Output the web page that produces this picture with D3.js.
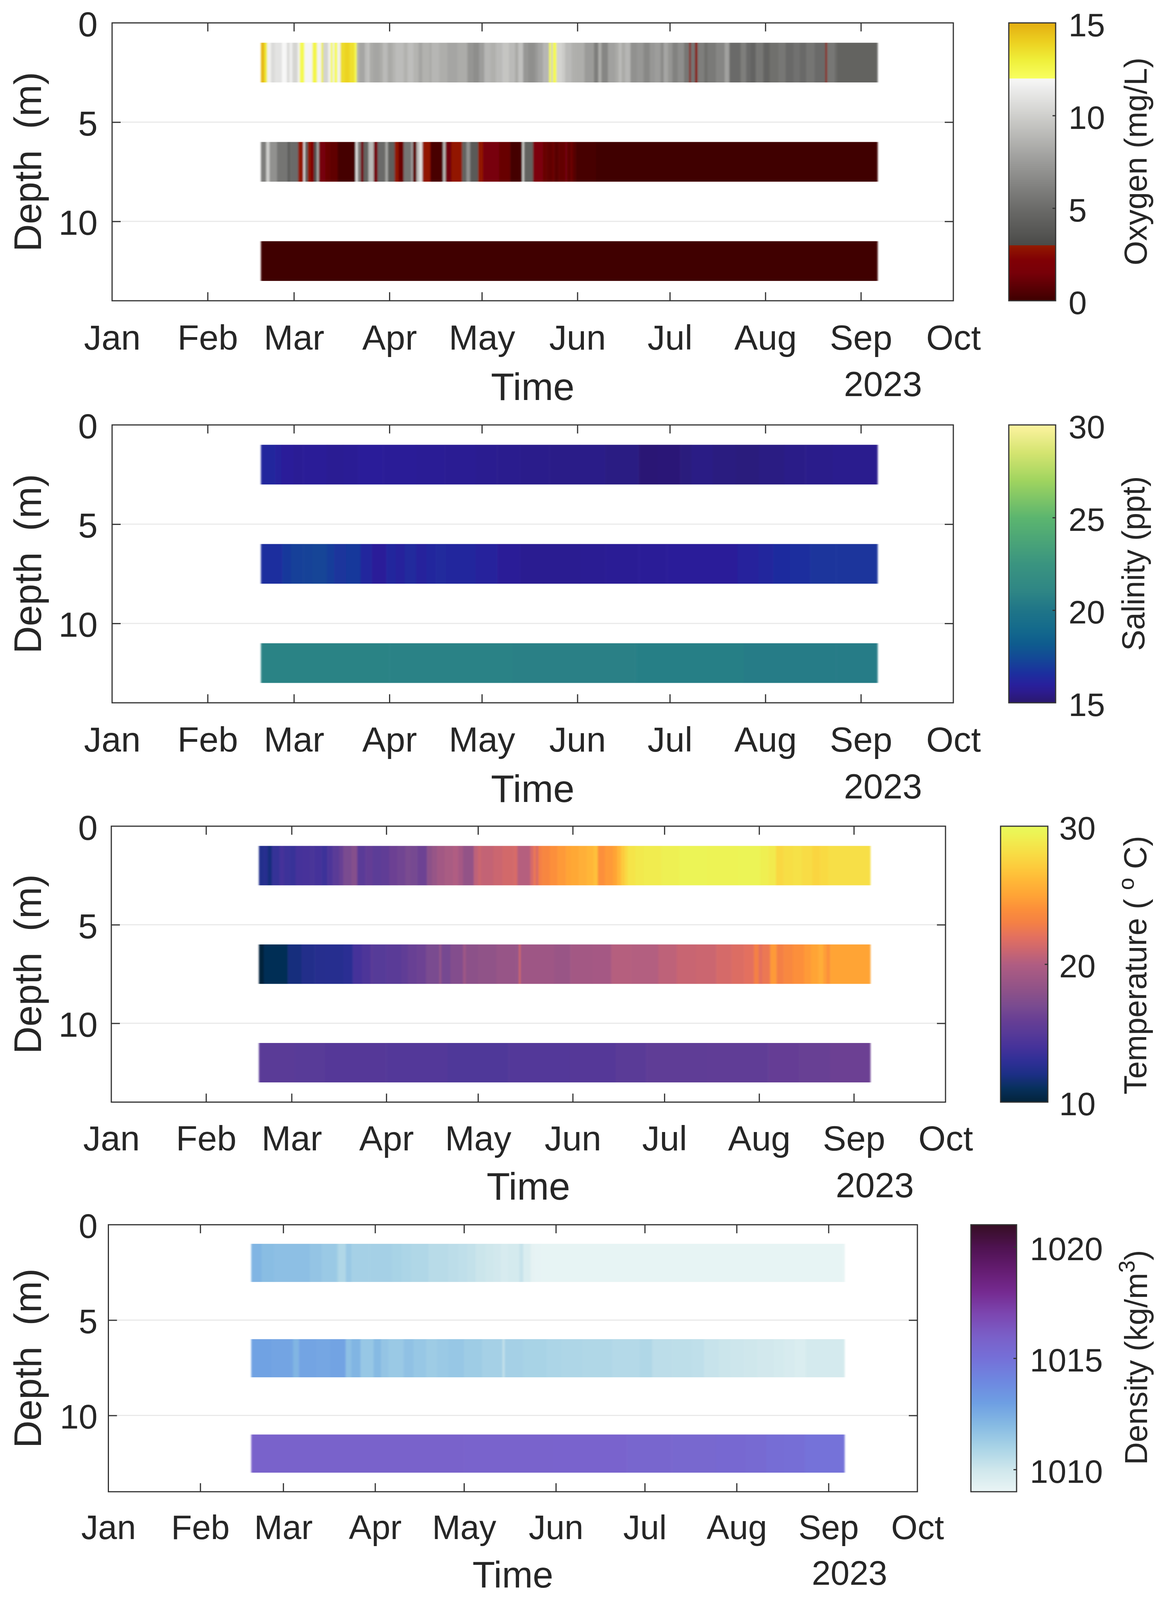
<!DOCTYPE html>
<html><head><meta charset="utf-8">
<script src="https://cdn.jsdelivr.net/npm/d3@7/dist/d3.min.js"></script>
<style>html,body{margin:0;padding:0;background:#fff;overflow:hidden}svg{display:block;width:100vw;height:100vh}text{font-family:"Liberation Sans",Arial,sans-serif;fill:#262626}</style>
</head><body><svg id="c" viewBox="0 0 2983 4123" preserveAspectRatio="none"></svg>
<script>
// [day of 2023 counted from Jan 1, value] : each value holds until the next entry
const endDay = 248.4;
const monthLabels = ["Jan","Feb","Mar","Apr","May","Jun","Jul","Aug","Sep","Oct"];
const depthTicks = [0,5,10];
const depthBands = [[1,3],[6,8],[11,13]];

const oxygen1m = [[48.3,14.7],[49.4,13.2],[50.3,11.7],[51.55,10.6],[52.8,11],[55.1,12],[56.7,10.6],[57.6,11.6],[58.5,10.3],[60.2,11.7],[60.9,12.4],[62.4,11.9],[65,12.6],[66.5,11.8],[67.9,13],[68.5,10.2],[70.1,11.6],[70.9,12.4],[71.6,11.5],[72.1,12.3],[73.1,11.7],[74.1,13.6],[75.5,13.9],[77.1,13.5],[78.7,12.3],[79.4,8.6],[80.2,8],[82,9],[82.9,9.3],[83.6,8.2],[84.7,8],[86.8,8.3],[87.8,9],[89.4,8.2],[91,8.7],[92,9.1],[94.6,8.6],[95.9,9.2],[97.8,8.7],[99.4,8],[100.7,8.6],[103,8.2],[103.7,8.8],[106.2,8.4],[108.8,8],[112,8.3],[115.3,7.2],[117.2,6.8],[119.1,7.6],[120.8,8.8],[122.7,8.5],[124.6,9],[126.6,9.5],[128.8,9],[130.8,8.2],[131.8,9.3],[133.4,7.3],[135,6.9],[137.3,7.4],[138.2,8],[139.8,8.8],[141.8,12.4],[142.5,9.8],[143,12.4],[144.2,10.2],[146,9.8],[147,9],[149.1,8.5],[150.5,8.4],[153.3,7.5],[156.4,6],[157.8,8.3],[158.8,6.4],[160.9,7.8],[163.4,8.2],[164.4,9],[165.4,8.2],[166.5,8.8],[168.2,7],[170.3,7.3],[172.4,6.5],[174.5,7.3],[176.2,7.6],[178,6.6],[179,8],[180.4,7.2],[181.8,6.2],[183.5,6.8],[185.6,5.6],[187.3,2.7],[187.8,5.5],[189.2,2.5],[190,6],[192.2,5.2],[193.3,5.8],[196,6.4],[198.8,7.8],[200.3,5],[204,6],[205.8,5],[207.2,4.6],[208.9,5.6],[211.3,4.6],[213.4,5.2],[216.2,5.6],[218.6,4.9],[221.1,5.3],[223.2,4.9],[225.2,5.5],[228,5],[231.5,2.8],[232,5.6],[234.6,5],[235.3,4.5]];
const oxygen6m = [[48.3,6],[50,10],[51.1,7],[53.5,5.5],[57,4],[57.7,5],[60.4,2.95],[62.1,11],[62.6,4.2],[63.5,2.9],[64.5,2.2],[65.5,3.2],[66.4,8],[67.1,1.5],[69.2,1.2],[70.6,0.9],[73.2,0.2],[79,11],[79.7,6],[80.7,1.3],[81.6,4.5],[83.2,9],[84.9,1.4],[86.2,5],[88.7,8],[89.5,4.2],[91.7,2.9],[93,1.2],[94.6,5.5],[97.1,8],[97.6,0.8],[98.8,9],[99.7,11],[100.7,2.9],[103.3,0.3],[107.4,9],[108.2,1.4],[110.1,2.95],[113.6,4.5],[115,7],[116.2,4],[118.8,2.9],[120.4,1.6],[125.6,1.1],[129.2,0.2],[133.1,10],[133.7,4.5],[136.6,1.8],[139.8,1.1],[141.1,0.9],[142.8,1.2],[143.5,0.7],[144.9,1],[147,1.4],[147.7,0.8],[148.8,1.3],[149.4,0.7],[150.5,0.25],[156.4,0.3],[157,0.1]];
const oxygen11m = [[48.3,0.1]];

const salinity1m = [[48.3,16.3],[52.9,16],[55,15.9],[58.9,15.8],[62,15.85],[69.7,15.75],[75,15.8],[79.9,15.9],[88,15.85],[98.7,15.8],[108,15.75],[118,15.65],[125,15.6],[132.5,15.55],[142,15.5],[151.8,15.5],[160,15.4],[171,15.15],[177,15.2],[184.3,15.3],[187.9,15.45],[195,15.35],[202.4,15.3],[210,15.4],[218.1,15.5],[225,15.55],[233.8,15.6]];
const salinity6m = [[48.3,16.6],[55.3,16.9],[58,17.1],[62,17.2],[65,17.3],[69.7,17],[72,16.8],[76,16.9],[80.6,16.3],[84.2,15.9],[89,16.3],[92,16.1],[95,16.4],[98.7,16],[102,16.2],[105,16.4],[108.3,16.3],[112,16.2],[118,16],[125,15.85],[132.5,15.7],[140,15.7],[151.8,15.75],[160,15.8],[171,15.85],[180,15.9],[195,15.9],[203,16],[209.7,16.2],[214.5,16.5],[220,16.6],[226.5,16.8],[235,16.8]];
const salinity11m = [[48.3,20.9],[90,20.8],[130,20.7],[170,20.6],[205,20.45],[235,20.4]];

const temperature1m = [[48.3,12.4],[49.9,12.6],[51.2,11.8],[52.5,13.3],[55.1,14],[56.5,13.7],[58.3,13.4],[60.3,14],[62.5,14.1],[64.9,14.3],[66.5,14],[68.8,13.7],[70.7,14.5],[72.5,15.2],[74.6,16],[75.9,17],[78.6,17.6],[80.5,15.2],[83.1,15.7],[85.5,15.3],[88.3,15.5],[91,16.2],[93.5,16.5],[96.2,17],[98,16.8],[100.1,16.3],[103.3,18],[105,18.6],[106.6,19.2],[109,19.6],[111.8,20],[113.5,19.4],[115.1,18.4],[118.6,20.5],[120,21],[121,20.7],[125,21],[128,21.3],[131.8,21.5],[132.9,20.2],[137.1,21.5],[138.2,22.5],[138.9,21.6],[139.8,23],[141,23.4],[143.5,24],[146,24.5],[148.8,25],[150.5,25.2],[153,25.6],[155.5,26],[157.8,26.5],[159.2,24],[161.5,24.5],[164.2,25],[165.5,26],[166.8,27],[168,27.8],[169,28.5],[171.5,28.8],[174.2,29],[180,29.3],[185.9,29.6],[195,29.5],[205,29.6],[212.4,29.2],[215,28.9],[217.5,27.8],[220,28.1],[223,28.3],[226,28],[229.4,27.6],[232,27.9],[234.7,28.2]];
const temperature6m = [[48.3,10],[49.9,10.8],[57.7,11.8],[62.2,12.3],[66.5,12.5],[70,12.6],[75.9,12.8],[78.9,13.5],[79.2,14],[82,14.5],[84.8,15.2],[85.7,15],[90,15.2],[94.9,15.6],[97,16],[100,16.3],[103,17],[107.4,18.5],[108,16.8],[111,17.5],[115.1,19],[116,18],[120,18.2],[126,18.6],[132.7,18.5],[133.4,21.5],[133.9,19],[142,19],[145,18.7],[150.2,19.3],[157.3,19.4],[163.6,20.2],[170,20.1],[179,20.5],[185,20.9],[191.2,21],[198,21.4],[203,21.7],[207.1,22],[210.3,23],[211.9,22],[213,22.5],[215.6,24.5],[217.7,23],[220,23.5],[223,24],[226.7,24.5],[229,25],[231.5,25.5],[233,24.7],[234.1,24],[235.2,25]];
const temperature11m = [[48.3,15.2],[60,15.05],[70,14.9],[90,14.75],[110,14.6],[130,14.75],[150,14.9],[165,15.2],[175,15.4],[195,15.6],[215,15.8],[225,16],[235,16.2]];

const density1m = [[48.2,1012.2],[51.7,1011.9],[56,1011.8],[68,1011.6],[72,1011.4],[76.9,1011.2],[77.5,1010.8],[80.1,1011.4],[82,1011.1],[88,1011.1],[95.8,1011],[99,1010.9],[102.2,1010.8],[108,1010.6],[114.7,1010.5],[118,1010.4],[121,1010.3],[124,1010.1],[127.4,1010],[130,1009.9],[132.4,1009.7],[135,1009.8],[138.7,1010.2],[140,1009.6],[142.5,1009.2],[144,1009.15],[146,1009.1]];
const density6m = [[48.2,1012.9],[55,1012.8],[61.8,1012.7],[62.4,1012.2],[64.3,1012.8],[70,1012.75],[75,1012.85],[79.4,1012.8],[80.1,1011.8],[82,1012.2],[85.1,1011.5],[89.5,1012],[92,1011.6],[94.6,1011.4],[99.6,1011.7],[103,1011.5],[107.2,1011.3],[111,1011.4],[114.7,1011.5],[120,1011.3],[126,1011.1],[133,1010.3],[133.7,1011.1],[140,1011],[147.9,1010.9],[153,1010.85],[159.9,1010.8],[170,1010.7],[179.3,1010.8],[183.5,1010.5],[190,1010.45],[196.9,1010.4],[201,1010.2],[206.1,1010.1],[210,1010.05],[214.5,1010],[219,1009.9],[224.6,1009.8],[228,1009.7],[231.6,1009.6],[235.3,1009.8]];
const density11m = [[48.2,1015.8],[120,1015.75],[150,1015.7],[175,1015.6],[190,1015.55],[205,1015.45],[215,1015.35],[222,1015.2],[228,1015.1],[235,1014.9]];

const oxygenStops = [[0,"#3d0000"],[1.5,"#770008"],[2.2,"#800005"],[3,"#931a00"],[3.001,"#4a4a48"],[5,"#6b6b69"],[7.5,"#9b9b99"],[10,"#cfcfcc"],[12,"#f7f7f7"],[12.001,"#f8ff60"],[13,"#efef3a"],[14,"#ecd020"],[15,"#e4ae12"]];
const salinityStops = [[15,"#2a186c"],[15.6,"#2c1b8e"],[16,"#28209c"],[16.6,"#1c2f9e"],[17.4,"#134896"],[18.2,"#0e5c8e"],[19,"#146a8c"],[20,"#1f7588"],[21,"#2e8585"],[22.5,"#3a9480"],[25,"#5bb56f"],[27,"#a0d45f"],[28.5,"#d4e470"],[30,"#fdf3a0"]];
const temperatureStops = [[10,"#03233a"],[11,"#07305c"],[12,"#1c2f85"],[13,"#2f2f96"],[14,"#45329a"],[15,"#573a98"],[16,"#683f94"],[17,"#7a4b90"],[18,"#8c5189"],[19,"#9e5785"],[20,"#b05d82"],[21,"#cb6670"],[22,"#e3705f"],[23,"#f48045"],[24,"#fc8f3a"],[25,"#ffa436"],[26,"#ffb637"],[27,"#fdca3c"],[28,"#f8dc44"],[29,"#f1ec4f"],[30,"#e8fa5b"]];
const densityStops = [[1009,"#eaf5f5"],[1010,"#cfe7ec"],[1011,"#a8d3e6"],[1012,"#86bae3"],[1013,"#6e9fe3"],[1014,"#6e87e0"],[1015,"#7570d8"],[1016,"#7a5fc8"],[1017,"#7c46b0"],[1018,"#752a90"],[1019,"#641c70"],[1020,"#4e1250"],[1021,"#360e24"]];

const panels = [
 {rows:[oxygen1m,oxygen6m,oxygen11m],stops:oxygenStops,domain:[0,15],ticks:[0,5,10,15],
  box:{l:287,r:2441,t:59,b:775},cb:{l:2583,r:2703},fs:90,tfs:84,cbx:33,label:["Oxygen (mg/L)"],lblX:2936,lblC:416,yearR:2361,mDy:126,tDy:256,yDy:246},
 {rows:[salinity1m,salinity6m,salinity11m],stops:salinityStops,domain:[15,30],ticks:[15,20,25,30],
  box:{l:287,r:2441,t:1095,b:1811},cb:{l:2583,r:2703},fs:90,tfs:84,cbx:33,label:["Salinity (ppt)"],lblX:2930,lblC:1452,yearR:2361,mDy:126,tDy:256,yDy:246},
 {rows:[temperature1m,temperature6m,temperature11m],stops:temperatureStops,domain:[10,30],ticks:[10,20,30],
  box:{l:285,r:2421,t:2129,b:2840},cb:{l:2562,r:2683},fs:90,tfs:84,cbx:29,label:["Temperature ( ","o"," C)"],lblX:2935,lblC:2487,yearR:2340,mDy:124,tDy:251,yDy:245},
 {rows:[density1m,density6m,density11m],stops:densityStops,domain:[1009,1021],ticks:[1010,1015,1020],
  box:{l:277.5,r:2349,t:3156,b:3844},cb:{l:2486,r:2603},fs:87,tfs:84,cbx:34,label:["Density (kg/m","3",")"],lblX:2937,lblC:3498,yearR:2272,mDy:122,tDy:247,yDy:240}
];

const svg = d3.select("#c");
svg.append("defs").append("filter").attr("id","soft").attr("x","-1%").attr("width","102%")
  .append("feGaussianBlur").attr("stdDeviation","2 0");
const ink = "#333333";
const dayToDate = d => new Date(Date.UTC(2023,0,1) + d*864e5);

panels.forEach(p => {
  const {l,r,t,b} = p.box;
  const x = d3.scaleUtc().domain([new Date(Date.UTC(2023,0,1)),new Date(Date.UTC(2023,9,1))]).range([l,r]);
  const y = d3.scaleLinear().domain([0,14]).range([t,b]);
  const color = d3.scaleLinear().domain(p.stops.map(s=>s[0])).range(p.stops.map(s=>s[1])).clamp(true);
  const g = svg.append("g");

  // grid
  g.append("g").selectAll("line").data(depthTicks.slice(1)).join("line")
    .attr("x1",l).attr("x2",r).attr("y1",y).attr("y2",y).attr("stroke","#e9e9e9").attr("stroke-width",3);

  // stripes
  p.rows.forEach((row,i) => {
    const [d0,d1] = depthBands[i];
    g.append("g").attr("filter","url(#soft)").selectAll("rect").data(row).join("rect")
      .attr("x",d=>x(dayToDate(d[0])))
      .attr("width",(d,j)=>x(dayToDate(j+1<row.length?row[j+1][0]:endDay))-x(dayToDate(d[0]))+0.5)
      .attr("y",y(d0)).attr("height",y(d1)-y(d0))
      .attr("fill",d=>color(d[1]));
  });

  // axes
  const monthTicks = d3.utcMonth.range(x.domain()[0],new Date(Date.UTC(2023,9,2)));
  const style = a => { a.select(".domain").remove(); a.selectAll("line").attr("stroke",ink).attr("stroke-width",3);
                       a.selectAll("text").attr("font-size",p.fs).attr("fill","#262626").attr("font-family",null); };
  const ticksInner = monthTicks.slice(1,-1);
  g.append("g").attr("transform",`translate(0,${b})`)
    .call(d3.axisBottom(x).tickValues(monthTicks).tickFormat((d,i)=>monthLabels[i]).tickSize(0).tickPadding(p.mDy-0.71*p.fs)).call(style);
  g.append("g").attr("transform",`translate(0,${b})`)
    .call(d3.axisBottom(x).tickValues(ticksInner).tickFormat("").tickSize(-22)).call(style);
  g.append("g").attr("transform",`translate(0,${t})`)
    .call(d3.axisTop(x).tickValues(ticksInner).tickFormat("").tickSize(-22)).call(style);
  g.append("g").attr("transform",`translate(${l},0)`)
    .call(d3.axisLeft(y).tickValues(depthTicks).tickSize(0).tickPadding(l-250)).call(style)
    .selectAll("text").attr("dy","0.38em");
  g.append("g").attr("transform",`translate(${l},0)`)
    .call(d3.axisLeft(y).tickValues(depthTicks.slice(1)).tickFormat("").tickSize(-22)).call(style);
  g.append("g").attr("transform",`translate(${r},0)`)
    .call(d3.axisRight(y).tickValues(depthTicks.slice(1)).tickFormat("").tickSize(-22)).call(style);
  g.append("rect").attr("x",l).attr("y",t).attr("width",r-l).attr("height",b-t).attr("fill","none").attr("stroke",ink).attr("stroke-width",3);

  // axis titles
  g.append("text").attr("x",(l+r)/2).attr("y",b+p.tDy).attr("text-anchor","middle").attr("font-size",p.fs*98/90).text("Time");
  g.append("text").attr("x",p.yearR).attr("y",b+p.yDy).attr("text-anchor","end").attr("font-size",p.fs*90/90).text("2023");
  g.append("text").attr("transform",`translate(105,${(t+b)/2}) rotate(-90)`).attr("text-anchor","middle").attr("font-size",98).style("white-space","pre").text("Depth  (m)");

  // colour bar
  const cy = d3.scaleLinear().domain(p.domain).range([b,t]);
  const steps = d3.range(0,Math.round(b-t));
  const cg = svg.append("g");
  cg.append("g").attr("shape-rendering","crispEdges").selectAll("rect").data(steps).join("rect")
    .attr("x",p.cb.l).attr("width",p.cb.r-p.cb.l).attr("y",d=>b-d-1).attr("height",1.5)
    .attr("fill",d=>color(cy.invert(b-d-0.5)));
  const ca = cg.append("g").attr("transform",`translate(${p.cb.r},0)`)
    .call(d3.axisRight(cy).tickValues(p.ticks).tickFormat(d3.format("d")).tickSize(0).tickPadding(p.cbx));
  ca.select(".domain").remove();
  ca.selectAll("text").attr("font-size",p.tfs).attr("fill","#262626").attr("font-family",null).attr("dy","0.4em");
  cg.append("g").attr("transform",`translate(${p.cb.r},0)`)
    .call(d3.axisRight(cy).tickValues(p.ticks.filter(v=>v>p.domain[0]&&v<p.domain[1])).tickFormat("").tickSize(-8))
    .call(a=>{a.select(".domain").remove();a.selectAll("line").attr("stroke",ink).attr("stroke-width",3);});
  cg.append("rect").attr("x",p.cb.l).attr("y",t).attr("width",p.cb.r-p.cb.l).attr("height",b-t).attr("fill","none").attr("stroke",ink).attr("stroke-width",3);

  // colour bar title
  const lt = cg.append("text").attr("transform",`translate(${p.lblX},${p.lblC}) rotate(-90)`).attr("text-anchor","middle").attr("font-size",81).style("white-space","pre");
  lt.append("tspan").text(p.label[0]);
  if (p.label.length>1) {
    lt.append("tspan").attr("font-size",57).attr("dy",-32).text(p.label[1]);
    lt.append("tspan").attr("dy",32).text(p.label[2]);
  }
});
</script></body></html>
